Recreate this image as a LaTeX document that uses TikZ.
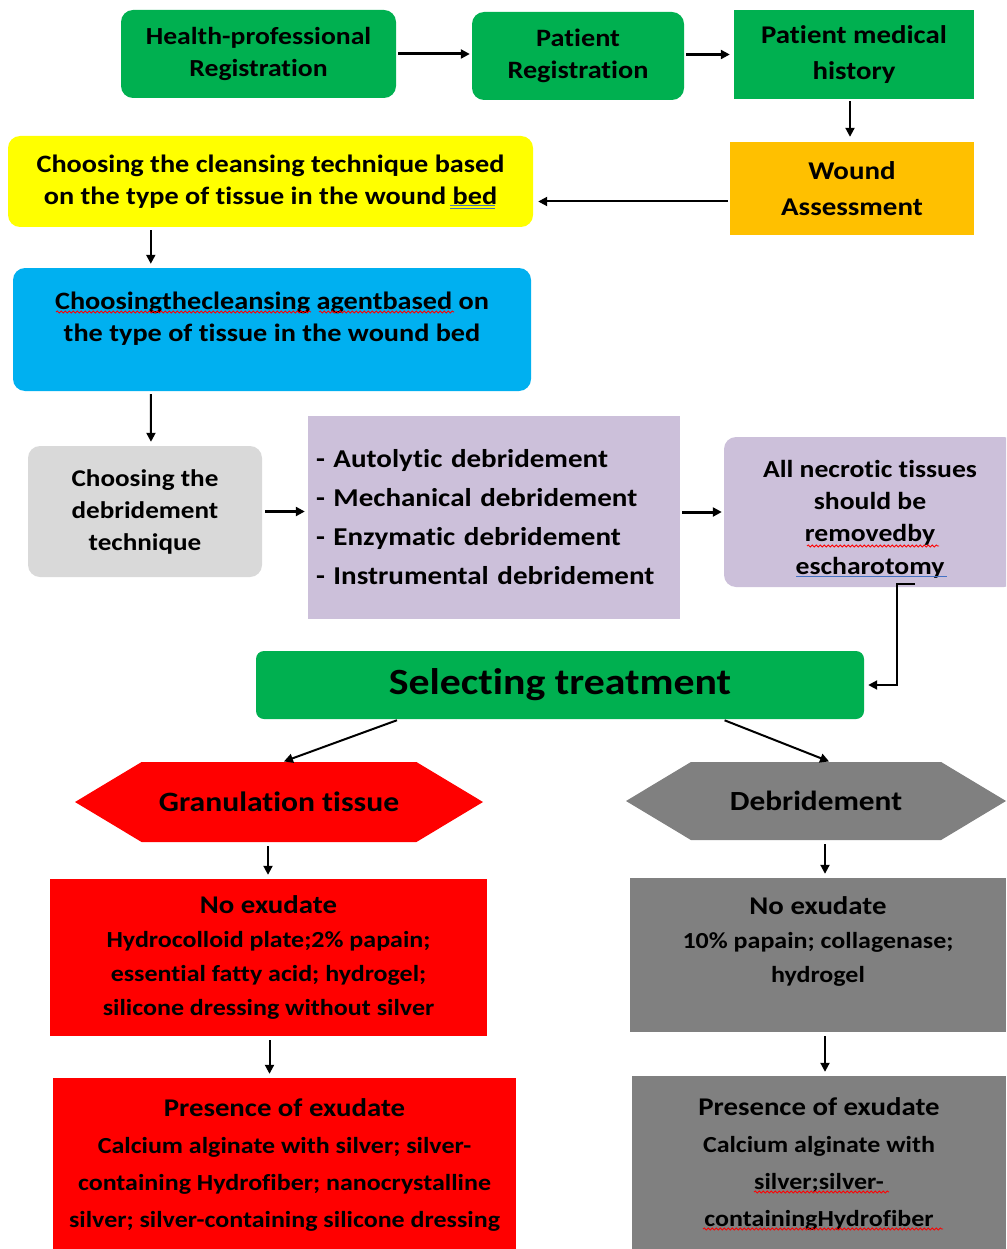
\documentclass[tikz,border=0pt]{standalone}
\usepackage{fontspec}
\setmainfont{Carlito}[Ligatures={NoCommon}, FakeStretch=1.13]
\usetikzlibrary{arrows.meta,shapes.symbols,calc,decorations.pathmorphing}
\definecolor{cgreen}{HTML}{00B050}
\definecolor{cyellow}{HTML}{FFFF00}
\definecolor{corange}{HTML}{FFC000}
\definecolor{cblue}{HTML}{00B0F0}
\definecolor{clgrey}{HTML}{D9D9D9}
\definecolor{cpurple}{HTML}{CCC0DA}
\definecolor{cred}{HTML}{FF0000}
\definecolor{cgrey}{HTML}{808080}
\definecolor{spellblue}{HTML}{4472C4}
\tikzset{
  box/.style={draw=none, inner sep=0pt, align=center, text=black,
    font=\bfseries\fontsize{25}{32}\selectfont},
  rbox/.style={box, rounded corners=12pt},
  txt/.style={inner sep=0pt, align=center, text=black, font=\bfseries\fontsize{25}{32}\selectfont},
  hexa/.style={box, shape=signal, signal to=west and east, signal pointer angle=62},
  arr/.style={draw=black, line width=2pt, -{Triangle[length=9pt,width=9pt]}},
  squiggle/.style={draw=red, line width=0.8pt, decorate,
    decoration={snake, amplitude=1.1pt, segment length=4pt}},
  bluline/.style={draw=spellblue, line width=1pt},
}
\begin{document}
\begin{tikzpicture}[x=1pt,y=-1pt]
\useasboundingbox (0,0) rectangle (1006,1249);
\clip (0,0) rectangle (1006,1249);
% top row
\node[rbox, fill=cgreen, minimum width=275pt, minimum height=88pt, font=\bfseries\fontsize{24.5}{32}\selectfont] (hp) at (258.5,54) {Health-professional\\Registration};
\node[rbox, fill=cgreen, minimum width=212pt, minimum height=88pt] (pr) at (578,56) {Patient\\Registration};
\node[box, fill=cgreen, minimum width=240pt, minimum height=89pt, font=\bfseries\fontsize{25.5}{36}\selectfont] (pmh) at (854,54.5) {Patient medical\\history};
\node[box, fill=corange, minimum width=244pt, minimum height=93pt, font=\bfseries\fontsize{25.6}{36}\selectfont] (wa) at (852,188.5) {Wound\\Assessment};
\node[rbox, fill=cyellow, minimum width=525pt, minimum height=91pt, font=\bfseries\fontsize{25}{32}\selectfont] (ct) at (270.5,181.5) {Choosing the cleansing technique based\\on the type of tissue in the wound bed};
\node[rbox, fill=cblue, minimum width=518pt, minimum height=123pt] (ca) at (272,329.5) {};
\node[txt] (cat) at ([yshift=11pt]ca.center) {Choosingthecleansing agentbased on\\the type of tissue in the wound bed};
\node[rbox, fill=clgrey, minimum width=234pt, minimum height=131pt, font=\bfseries\fontsize{24}{32}\selectfont] (cd) at (145,511.5) {Choosing the\\debridement\\technique};
\node[box, fill=cpurple, minimum width=372pt, minimum height=203pt, align=left, text width=356pt, font=\bfseries\fontsize{25.7}{39}\selectfont] (dl) at (494,517.5) {- Autolytic debridement\\- Mechanical debridement\\- Enzymatic debridement\\- Instrumental debridement};
\node[rbox, fill=cpurple, minimum width=292pt, minimum height=150pt] (nt) at (870,512) {};
\node[txt, font=\bfseries\fontsize{24.5}{32.3}\selectfont] (ntt) at ([yshift=-7pt]nt.center) {All necrotic tissues\\should be\\removedby\\escharotomy};
\node[rbox, rounded corners=8pt, fill=cgreen, minimum width=608pt, minimum height=68pt, font=\bfseries\fontsize{37}{40}\selectfont] (st) at (560,685) {Selecting treatment};
\node[hexa, fill=cred, minimum width=408pt, minimum height=80pt, font=\bfseries\fontsize{28}{30}\selectfont] (gt) at (279,802) {Granulation tissue};
\node[hexa, fill=cgrey, minimum width=380pt, minimum height=78pt, font=\bfseries\fontsize{27.7}{30}\selectfont] (db) at (816,801) {Debridement};
\node[box, fill=cred, minimum width=437pt, minimum height=157pt, font=\bfseries\fontsize{23}{34}\selectfont] (r1) at (268.5,957.5) {{\fontsize{25.5}{34}\selectfont No exudate}\\Hydrocolloid plate;2\% papain;\\essential fatty acid; hydrogel;\\silicone dressing without silver};
\node[box, fill=cred, minimum width=463pt, minimum height=174pt, font=\bfseries\fontsize{23}{37}\selectfont] (r2) at (284.5,1165) {{\fontsize{25.5}{37}\selectfont Presence of exudate}\\Calcium alginate with silver; silver-\\containing Hydrofiber; nanocrystalline\\silver; silver-containing silicone dressing};
\node[box, fill=cgrey, minimum width=376pt, minimum height=154pt] (g1) at (818,955) {};
\node[txt, font=\bfseries\fontsize{23}{34}\selectfont] (g1t) at ([yshift=14pt]g1.center) {{\fontsize{25.5}{34}\selectfont No exudate}\\10\% papain; collagenase;\\hydrogel};
\node[box, fill=cgrey, minimum width=374pt, minimum height=176pt, font=\bfseries\fontsize{23}{37}\selectfont] (g2) at (819,1164) {{\fontsize{25.5}{37}\selectfont Presence of exudate}\\Calcium alginate with\\silver;silver-\\containingHydrofiber};
% spell-check marks
\draw[bluline] (450,205.5) -- (495,205.5);
\draw[bluline] (450,208.5) -- (495,208.5);
\draw[squiggle] (56,312) -- (311,312);
\draw[squiggle] (319,312) -- (454,312);
\draw[squiggle] (807,546) -- (939,546);
\draw[bluline] (796,576) -- (947,576);
\draw[squiggle] (754,1192) -- (889,1192);
\draw[squiggle] (703,1229) -- (943,1229);
% connectors
\draw[arr, line width=3pt, shorten <=2pt, shorten >=2pt] (hp.east) -- (hp.east -| pr.west);
\draw[arr, line width=3pt, shorten <=2pt, shorten >=4pt] (pr.east |- pmh.west) -- (pmh.west);
\draw[arr, shorten <=2pt, shorten >=5pt] ([xshift=-4pt]pmh.south) -- ([xshift=-2pt]wa.north);
\draw[arr, shorten <=2pt, shorten >=5pt] ([yshift=-13pt]wa.west) -- ([yshift=-13pt]wa.west -| ct.east);
\draw[arr, shorten <=3pt, shorten >=4pt] ([xshift=143pt]ct.south west) -- ([xshift=138pt]ca.north west);
\draw[arr, shorten <=3pt, shorten >=4pt] ([xshift=138pt]ca.south west) -- ([xshift=6pt]cd.north);
\draw[arr, line width=3pt, shorten <=3pt, shorten >=3pt] (cd.east) -- (cd.east -| dl.west);
\draw[arr, line width=3pt, shorten <=2pt, shorten >=2pt] (dl.east |- nt.west) -- (nt.west);
\draw[arr, shorten >=4pt] ([shift={(45pt,3pt)}]nt.south) -- ++(-18pt,0pt) |- (st.east);
\draw[arr, shorten <=3pt, shorten >=1pt] ([xshift=144pt]st.south west) -- ([xshift=4pt]gt.north);
\draw[arr, shorten <=3pt, shorten >=1pt] ([xshift=466pt]st.south west) -- ([xshift=14pt]db.north);
\draw[arr, shorten <=4pt, shorten >=4pt] ([xshift=-11pt]gt.south) -- ([xshift=-11pt]gt.south |- r1.north);
\draw[arr, shorten <=4pt, shorten >=4pt] ([xshift=1pt]r1.south) -- ([xshift=1pt]r1.south |- r2.north);
\draw[arr, shorten <=4pt, shorten >=4pt] ([xshift=9pt]db.south) -- ([xshift=9pt]db.south |- g1.north);
\draw[arr, shorten <=4pt, shorten >=4pt] ([xshift=7pt]g1.south) -- ([xshift=7pt]g1.south |- g2.north);
\end{tikzpicture}
\end{document}
